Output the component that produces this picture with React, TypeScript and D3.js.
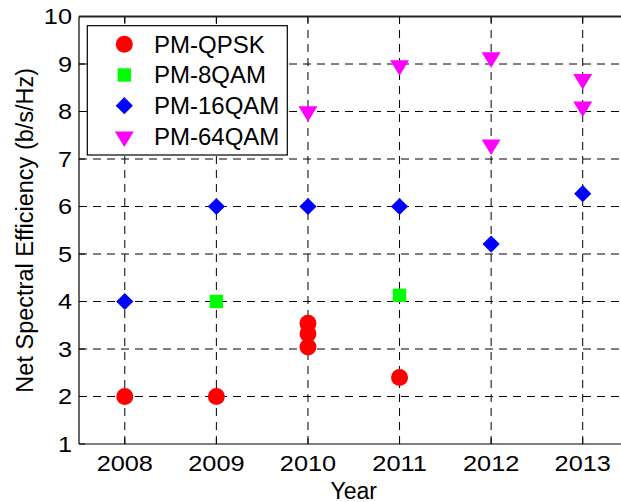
import React from "react";
import * as d3 from "d3";

const years = [2008, 2009, 2010, 2011, 2012, 2013];
const yTicks = [1, 2, 3, 4, 5, 6, 7, 8, 9, 10];

const qpskYears = [2008, 2009, 2010, 2010, 2010, 2011];
const qpskValues = [2.0, 2.0, 3.04, 3.32, 3.54, 2.4];

const qam8Years = [2009, 2011];
const qam8Values = [4.0, 4.13];

const qam16Years = [2008, 2009, 2010, 2011, 2012, 2013];
const qam16Values = [4.0, 6.0, 6.0, 6.0, 5.21, 6.27];

const qam64Years = [2010, 2011, 2012, 2012, 2013, 2013];
const qam64Values = [8.0, 8.97, 9.14, 7.3, 8.68, 8.1];

const legendLabels = ["PM-QPSK", "PM-8QAM", "PM-16QAM", "PM-64QAM"];

const W = 621;
const H = 502;
const left = 79;
const right = 628.5;
const top = 16.5;
const bottom = 444;

const FONT = "'Liberation Sans', Arial, Helvetica, sans-serif";

type Shape = "circle" | "square" | "diamond" | "tri";

function Marker({ shape, x, y }: { shape: Shape; x: number; y: number }) {
  if (shape === "circle") return <circle cx={x} cy={y} r={8.5} fill="#ff0000" />;
  if (shape === "square")
    return <rect x={x - 6.7} y={y - 6.7} width={13.4} height={13.4} fill="#00ff00" />;
  if (shape === "diamond") {
    const r = 8.6;
    return (
      <path
        d={`M${x},${y - r}L${x + r},${y}L${x},${y + r}L${x - r},${y}Z`}
        fill="#0000ff"
      />
    );
  }
  const h = 15.5;
  const w = 19;
  return (
    <path
      d={`M${x - w / 2},${y - h / 3}L${x + w / 2},${y - h / 3}L${x},${y + (2 * h) / 3}Z`}
      fill="#ff00ff"
    />
  );
}

export default function App() {
  const x = d3.scaleLinear().domain([2007.5, 2013.5]).range([left, right]);
  const y = d3.scaleLinear().domain([1, 10]).range([bottom, top]);

  const series: { shape: Shape; xs: number[]; ys: number[] }[] = [
    { shape: "circle", xs: qpskYears, ys: qpskValues },
    { shape: "square", xs: qam8Years, ys: qam8Values },
    { shape: "diamond", xs: qam16Years, ys: qam16Values },
    { shape: "tri", xs: qam64Years, ys: qam64Values },
  ];

  const legendShapes: Shape[] = ["circle", "square", "diamond", "tri"];
  const lgX = 87.3;
  const lgY = 25.7;
  const lgW = 200;
  const lgH = 129.3;
  const rowY = [44.3, 75, 105.7, 136.7];

  return (
    <svg
      width={W}
      height={H}
      style={{ position: "absolute", left: 0, top: 0, background: "#fff" }}
      fontFamily={FONT}
    >
      <rect x={0} y={0} width={W} height={H} fill="#fff" />
      {/* grid */}
      <g stroke="#000" strokeWidth={1} strokeDasharray="8,6" fill="none">
        {years.map((yr) => (
          <line key={"gx" + yr} x1={x(yr)} x2={x(yr)} y1={bottom} y2={top} />
        ))}
        {yTicks.slice(1, -1).map((v) => (
          <line key={"gy" + v} x1={left} x2={right} y1={y(v)} y2={y(v)} />
        ))}
      </g>
      {/* ticks */}
      <g stroke="#000" strokeWidth={1}>
        {years.map((yr) => (
          <g key={"tx" + yr}>
            <line x1={x(yr)} x2={x(yr)} y1={bottom} y2={bottom - 6} />
            <line x1={x(yr)} x2={x(yr)} y1={top} y2={top + 6} />
          </g>
        ))}
        {yTicks.map((v) => (
          <line key={"ty" + v} x1={left} x2={left + 6} y1={y(v)} y2={y(v)} />
        ))}
      </g>
      {/* axes box */}
      <line x1={left} x2={right} y1={top} y2={top} stroke="#222" strokeWidth={2} />
      <line x1={left} x2={right} y1={bottom} y2={bottom} stroke="#000" strokeWidth={1.2} />
      <line x1={left} x2={left} y1={top} y2={bottom} stroke="#000" strokeWidth={1.2} />
      <line x1={right} x2={right} y1={top} y2={bottom} stroke="#000" strokeWidth={1.2} />

      {/* data */}
      {series.map((s) =>
        s.xs.map((xv, i) => (
          <Marker key={s.shape + i} shape={s.shape} x={x(xv)} y={y(s.ys[i])} />
        ))
      )}

      {/* tick labels */}
      {years.map((yr) => (
        <text
          key={"lx" + yr}
          transform={`translate(${x(yr)},${470.7}) scale(1.15,1)`}
          textAnchor="middle"
          fontSize={22}
          fill="#000"
        >
          {yr}
        </text>
      ))}
      {yTicks.map((v) => (
        <text
          key={"ly" + v}
          transform={`translate(${72},${y(v) + 7.8}) scale(1.15,1)`}
          textAnchor="end"
          fontSize={22}
          fill="#000"
        >
          {v}
        </text>
      ))}

      {/* axis labels */}
      <text x={(left + right) / 2} y={498.5} textAnchor="middle" fontSize={23} fill="#000">
        Year
      </text>
      <text
        transform={`translate(32.5,${(top + bottom) / 2}) rotate(-90)`}
        textAnchor="middle"
        fontSize={23.5}
        fill="#000"
      >
        Net Spectral Efficiency (b/s/Hz)
      </text>

      {/* legend */}
      <rect x={lgX} y={lgY} width={lgW} height={lgH} fill="#fff" stroke="#000" strokeWidth={1.2} />
      {legendLabels.map((lab, i) => (
        <g key={lab}>
          <Marker shape={legendShapes[i]} x={124.3} y={rowY[i]} />
          <text x={154} y={rowY[i] + 8.4} fontSize={24} fill="#000">
            {lab}
          </text>
        </g>
      ))}
    </svg>
  );
}
